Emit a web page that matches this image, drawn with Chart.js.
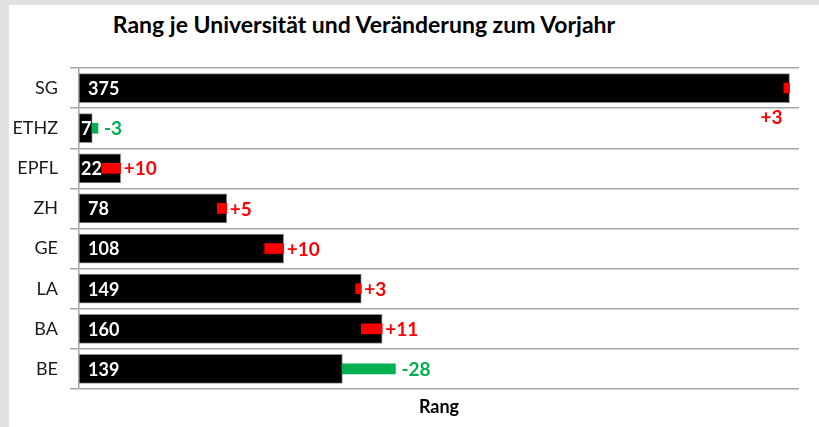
<!DOCTYPE html>
<html>
<head>
<meta charset="utf-8">
<script src="https://cdn.jsdelivr.net/npm/chart.js@4"></script>
<style>
  html, body { margin: 0; padding: 0; background: #dfe0e2; }
  #frame { position: absolute; left: 9px; top: 5px; width: 810px; height: 422px; background: #fff; }
  #title { position: absolute; left: 0; top: 5px; width: 710px; text-align: center;
           font: bold 23px Lato, sans-serif; line-height: 28px; color: #000; }
  #wrap { position: absolute; left: 0; top: 0; width: 810px; height: 422px; }
</style>
</head>
<body>
<div id="frame">
  <div id="title">Rang je Universität und Veränderung zum Vorjahr</div>
  <div id="wrap"><canvas id="grafico"></canvas></div>
</div>
<script>
const universitaeten = ['SG', 'ETHZ', 'EPFL', 'ZH', 'GE', 'LA', 'BA', 'BE'];
const rang = [375, 7, 22, 78, 108, 149, 160, 139];
const veraenderung = [3, -3, 10, 5, 10, 3, 11, -28];

const ROT = '#ff0000';
const GRUEN = '#00b050';

// Balken für die Veränderung: positiv endet am Rang, negativ beginnt am Rang
const veraenderungBalken = rang.map((r, i) => {
    const c = veraenderung[i];
    return c > 0 ? [r - c, r] : [r, r - c];
});

const labelPlugin = {
    id: 'labels',
    afterDatasetsDraw(chart) {
        const ctx = chart.ctx;
        const area = chart.chartArea;
        const metaRang = chart.getDatasetMeta(1);
        const metaVer = chart.getDatasetMeta(0);
        ctx.save();
        ctx.textBaseline = 'middle';
        metaRang.data.forEach((bar, i) => {
            const breite = bar.x - bar.base;
            // Wert im Balken
            ctx.font = 'bold 18px Lato, sans-serif';
            ctx.fillStyle = '#fff';
            ctx.textAlign = 'left';
            ctx.fillText(String(rang[i]), bar.base + (breite < 60 ? 2 : 9), bar.y + 1);

            // Veränderung
            const c = veraenderung[i];
            const txt = (c > 0 ? '+' : '') + c;
            const vBar = metaVer.data[i];
            const ende = Math.max(bar.x, vBar.x);
            ctx.font = 'bold 19px Lato, sans-serif';
            ctx.fillStyle = c > 0 ? ROT : GRUEN;
            const w = ctx.measureText(txt).width;
            if (ende + 3 + w > area.right) {
                ctx.textAlign = 'right';
                ctx.fillText(txt, ende - 7, bar.y + 30);
            } else {
                ctx.textAlign = 'left';
                ctx.fillText(txt, ende + (c > 0 ? 3 : 6), bar.y + 1);
            }
        });
        ctx.restore();
    }
};

new Chart(document.getElementById('grafico'), {
    type: 'bar',
    data: {
        labels: universitaeten,
        datasets: [
            {
                label: 'Veränderung',
                data: veraenderungBalken,
                backgroundColor: veraenderung.map(c => c > 0 ? ROT : GRUEN),
                barThickness: 10,
                grouped: false,
                order: 0
            },
            {
                label: 'Rang',
                data: rang,
                backgroundColor: '#000',
                borderColor: '#8c8c8c',
                borderWidth: 1,
                borderSkipped: false,
                barThickness: 29,
                grouped: false,
                order: 1
            }
        ]
    },
    options: {
        indexAxis: 'y',
        responsive: true,
        maintainAspectRatio: false,
        animation: false,
        layout: { padding: { left: 0, right: 20, top: 63, bottom: 0 } },
        plugins: {
            legend: { display: false },
            tooltip: { enabled: false }
        },
        scales: {
            x: {
                min: 0,
                max: 380,
                ticks: { display: false },
                grid: { display: false },
                border: { display: false },
                title: {
                    display: true,
                    text: 'Rang',
                    color: '#000',
                    font: { family: 'Lato', size: 18, weight: 'bold' },
                    padding: { top: 0, bottom: 9 }
                },
                afterFit: (s) => { s.height = 38; }
            },
            y: {
                grid: {
                    offset: true,
                    color: '#a6a6a6',
                    lineWidth: 1.5,
                    tickLength: 9
                },
                border: { display: true, color: '#a6a6a6', width: 1.5 },
                ticks: {
                    color: '#1a1a1a',
                    padding: 12,
                    font: { family: 'Lato', size: 18 }
                },
                afterFit: (s) => { s.width = 70; }
            }
        }
    },
    plugins: [labelPlugin]
});
</script>
</body>
</html>
